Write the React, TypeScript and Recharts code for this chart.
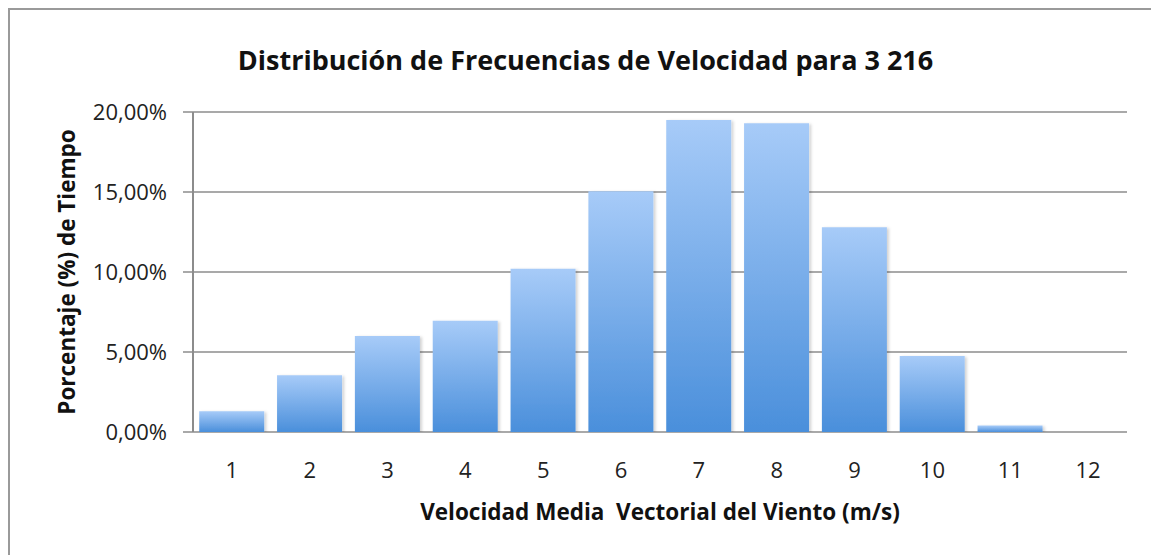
import React from "react";
import { BarChart, Bar, XAxis, YAxis, CartesianGrid } from "recharts";

const categories = ["1", "2", "3", "4", "5", "6", "7", "8", "9", "10", "11", "12"];
const frequencies = [1.3, 3.55, 6.0, 6.95, 10.2, 15.05, 19.5, 19.3, 12.8, 4.75, 0.4, 0];
const yTicks = [0, 5, 10, 15, 20];
const boundaryTicks = [0.5, 1.5, 2.5, 3.5, 4.5, 5.5, 6.5, 7.5, 8.5, 9.5, 10.5, 11.5, 12.5];

const title = "Distribución de Frecuencias de Velocidad para 3 216";
const xLabel = "Velocidad Media  Vectorial del Viento (m/s)";
const yLabel = "Porcentaje (%) de Tiempo";

const data = categories.map((c, i) => ({ cat: c, idx: i + 1, value: frequencies[i] }));

const FONT = "'Open Sans', sans-serif";
const W = 1150;
const H = 547;

export default function App() {
  return (
    <div
      style={{
        position: "relative",
        width: W,
        height: H,
        boxSizing: "border-box",
        borderTop: "2px solid #9a9a9a",
        borderLeft: "2px solid #9a9a9a",
        borderRight: "1px solid #d8d8d8",
        fontFamily: FONT,
        background: "#fff",
      }}
    >
      <div
        style={{
          position: "absolute",
          left: 0,
          top: 31,
          width: "100%",
          textAlign: "center",
          paddingLeft: 2,
          lineHeight: "37px",
        }}
      >
        <span style={{ fontSize: 27, fontWeight: 700, color: "#111" }}>{title}</span>
      </div>
      <div
        style={{
          position: "absolute",
          left: 57 - 180,
          top: 262 - 15,
          width: 360,
          height: 30,
          textAlign: "center",
          transform: "rotate(-90deg)",
          fontSize: 22.5,
          fontWeight: 700,
          color: "#111",
          lineHeight: "30px",
        }}
      >
        {yLabel}
      </div>
      <div
        style={{
          position: "absolute",
          left: 0,
          top: 487,
          width: 1300,
          textAlign: "center",
          fontSize: 22.5,
          fontWeight: 700,
          color: "#111",
          whiteSpace: "pre",
          lineHeight: "30px",
        }}
      >
        {xLabel}
      </div>
      <div style={{ position: "absolute", left: -2, top: -2 }}>
        <BarChart
          width={W}
          height={H}
          data={data}
          margin={{ top: 104, right: 31, bottom: 93, left: 95 }}
          barCategoryGap="8%"
        >
          <defs>
            <linearGradient id="barGrad" x1="0" y1="0" x2="0" y2="1">
              <stop offset="0%" stopColor="#a7cbf8" />
              <stop offset="100%" stopColor="#4a8fdb" />
            </linearGradient>
            <filter id="shadow" x="-10%" y="-10%" width="130%" height="130%">
              <feDropShadow dx="2" dy="1" stdDeviation="1.5" floodColor="#000" floodOpacity="0.18" />
            </filter>
          </defs>
          <CartesianGrid vertical={false} stroke="#8c8c8c" strokeWidth={1.5} />
          <XAxis
            xAxisId="bounds"
            type="number"
            dataKey="idx"
            domain={[0.5, 12.5]}
            ticks={boundaryTicks}
            tickFormatter={() => ""}
            height={0}
            tickSize={7}
            axisLine={{ stroke: "#8c8c8c", strokeWidth: 2 }}
            tickLine={{ stroke: "#8c8c8c", strokeWidth: 2 }}
          />
          <XAxis
            xAxisId="cat"
            dataKey="cat"
            type="category"
            height={30}
            axisLine={false}
            tickLine={false}
            tickMargin={24}
            tick={{ fill: "#222", fontSize: 22, fontFamily: FONT }}
            interval={0}
          />
          <YAxis
            width={90}
            domain={[0, 20]}
            ticks={yTicks}
            tickFormatter={(v: number) => v.toFixed(2).replace(".", ",") + "%"}
            axisLine={{ stroke: "#8c8c8c", strokeWidth: 2 }}
            tickLine={{ stroke: "#8c8c8c", strokeWidth: 1.5 }}
            tickSize={10}
            tickMargin={16}
            tick={{ fill: "#222", fontSize: 22, fontFamily: FONT }}
            allowDataOverflow
          />
          <Bar
            xAxisId="cat"
            dataKey="value"
            fill="url(#barGrad)"
            filter="url(#shadow)"
            isAnimationActive={false}
          />
        </BarChart>
      </div>
    </div>
  );
}
